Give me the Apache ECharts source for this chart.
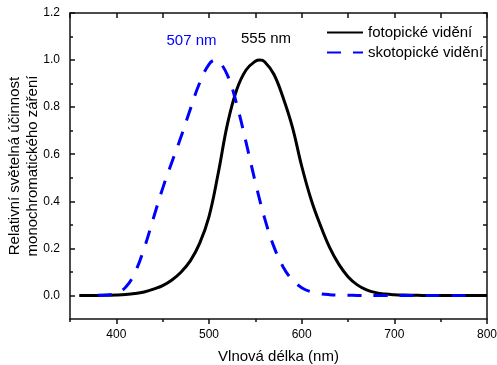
<!DOCTYPE html>
<html>
<head>
<meta charset="utf-8">
<script src="https://cdn.jsdelivr.net/npm/echarts@6/dist/echarts.min.js"></script>
<style>
  html, body { margin: 0; padding: 0; background: #fff; }
  #chart { width: 497px; height: 365px; }
</style>
</head>
<body>
<div id="chart"></div>
<script>
// fotopické vidění – vlnová délka (nm) a relativní účinnost
const photopicNm = [360, 370, 380, 390, 400, 410, 420, 430, 440, 450, 460, 470, 480, 490, 500, 510, 520, 530, 540, 550, 555,
    560, 570, 580, 590, 600, 610, 620, 630, 640, 650, 660, 670, 680, 690, 700, 710, 720, 730, 740, 750, 760, 770, 780, 790, 800];
const photopicV = [0, 0, 0, 0.001, 0.002, 0.004, 0.008, 0.015, 0.027, 0.042, 0.066, 0.1, 0.148, 0.222, 0.335, 0.52, 0.73, 0.875, 0.958, 0.995, 1.0,
    0.993, 0.94, 0.84, 0.715, 0.55, 0.41, 0.3, 0.205, 0.133, 0.08, 0.045, 0.024, 0.012, 0.006, 0.003, 0.0015, 0.0007, 0.0003, 0.0001, 0, 0, 0, 0, 0, 0];

// skotopické vidění
const scotopicNm = [380, 390, 400, 410, 420, 430, 440, 450, 460, 470, 480, 490, 500, 507,
    510, 520, 530, 540, 550, 560, 570, 580, 590, 600, 610, 620, 630, 640, 650, 660, 670,
    680, 690, 700, 710, 720, 730, 740, 750, 760, 770, 780];
const scotopicV = [0.0006, 0.0022, 0.0093, 0.0348, 0.0966, 0.1998, 0.3281, 0.455, 0.567, 0.676, 0.793, 0.904, 0.982, 1.0,
    0.997, 0.935, 0.811, 0.65, 0.481, 0.3288, 0.2076, 0.1212, 0.0655, 0.0332, 0.0159, 0.0074, 0.0033, 0.0015, 0.0007, 0.0003, 0.0001,
    0, 0, 0, 0, 0, 0, 0, 0, 0, 0, 0];

// popisky os
const xLabelValues = [400, 500, 600, 700, 800];
const xMinorValues = [350, 450, 550, 650, 750];
const xAllTicks = [350, 400, 450, 500, 550, 600, 650, 700, 750, 800];
const yLabelValues = [0, 0.2, 0.4, 0.6, 0.8, 1.0, 1.2];
const yMinorValues = [0.1, 0.3, 0.5, 0.7, 0.9, 1.1];
const yAllTicks = [0, 0.1, 0.2, 0.3, 0.4, 0.5, 0.6, 0.7, 0.8, 0.9, 1.0, 1.1, 1.2];

const FONT = 'Liberation Sans, Arial, sans-serif';
const AXIS_COLOR = '#111';

const chart = echarts.init(document.getElementById('chart'));

function zip(xs, ys) {
    return xs.map((x, i) => [x, ys[i]]);
}

// pomocná osa jen s čárkami
function tickOnlyAxis(extra) {
    return Object.assign({
        type: 'value',
        axisLine: { show: false, onZero: false },
        splitLine: { show: false },
        axisLabel: { show: false },
    }, extra);
}

const option = {
    animation: false,
    grid: { left: 70, right: 10, top: 13, bottom: 46, outerBoundsMode: 'none', containLabel: false },
    legend: {
        left: 326,
        top: 25,
        padding: 0,
        orient: 'vertical',
        itemWidth: 36,
        itemHeight: 14,
        itemGap: 5,
        itemStyle: { opacity: 0 },
        textStyle: { fontFamily: FONT, fontSize: 15, color: '#000' },
        data: ['fotopické vidění', 'skotopické vidění']
    },
    xAxis: [
        {
            type: 'value',
            position: 'bottom',
            min: 350,
            max: 800,
            name: 'Vlnová délka (nm)',
            nameLocation: 'middle',
            nameGap: 30,
            nameMoveOverlap: false,
            nameTextStyle: { fontFamily: FONT, fontSize: 15, color: '#000' },
            axisLine: { show: true, onZero: false, lineStyle: { color: AXIS_COLOR, width: 1.5 } },
            axisTick: { show: true, inside: false, length: 5, customValues: xLabelValues, lineStyle: { color: AXIS_COLOR, width: 1.5 } },
            axisLabel: { fontFamily: FONT, fontSize: 12, color: '#000', margin: 10, customValues: xLabelValues },
            splitLine: { show: false }
        },
        tickOnlyAxis({
            position: 'bottom', min: 350, max: 800,
            axisTick: { show: true, inside: false, length: 3, customValues: xMinorValues, lineStyle: { color: AXIS_COLOR, width: 1.5 } }
        }),
        tickOnlyAxis({
            position: 'top', min: 350, max: 800,
            axisLine: { show: true, onZero: false, lineStyle: { color: AXIS_COLOR, width: 1.5 } },
            axisTick: { show: true, inside: true, length: 5, customValues: xAllTicks, lineStyle: { color: AXIS_COLOR, width: 1.5 } }
        })
    ],
    yAxis: [
        {
            type: 'value',
            position: 'left',
            min: -0.1,
            max: 1.2,
            name: 'Relativní světelná účinnost\nmonochromatického záření',
            nameLocation: 'middle',
            nameGap: 28,
            nameRotate: 90,
            nameMoveOverlap: false,
            nameTextStyle: { fontFamily: FONT, fontSize: 15, color: '#000', lineHeight: 18 },
            axisLine: { show: true, onZero: false, lineStyle: { color: AXIS_COLOR, width: 1.5 } },
            axisTick: { show: true, inside: true, length: 5, customValues: yLabelValues, lineStyle: { color: AXIS_COLOR, width: 1.5 } },
            axisLabel: {
                fontFamily: FONT, fontSize: 12, color: '#000', margin: 10,
                customValues: yLabelValues,
                formatter: v => v.toFixed(1)
            },
            splitLine: { show: false }
        },
        tickOnlyAxis({
            position: 'left', min: -0.1, max: 1.2,
            axisTick: { show: true, inside: true, length: 3, customValues: yMinorValues, lineStyle: { color: AXIS_COLOR, width: 1.5 } }
        }),
        tickOnlyAxis({
            position: 'right', min: -0.1, max: 1.2,
            axisLine: { show: true, onZero: false, lineStyle: { color: AXIS_COLOR, width: 1.5 } },
            axisTick: { show: true, inside: true, length: 4, customValues: yAllTicks, lineStyle: { color: AXIS_COLOR, width: 1.5 } }
        })
    ],
    series: [
        {
            name: 'fotopické vidění',
            type: 'line',
            xAxisIndex: 0,
            yAxisIndex: 0,
            data: zip(photopicNm, photopicV),
            showSymbol: false,
            symbol: 'none',
            smooth: 0.4,
            lineStyle: { color: '#000', width: 3 },
            itemStyle: { color: '#000' },
            markPoint: {
                symbol: 'circle',
                symbolSize: 0,
                label: {
                    show: true,
                    formatter: '555 nm',
                    offset: [6, -21],
                    fontFamily: FONT, fontSize: 15, color: '#000'
                },
                data: [{ coord: [555, 1.0] }]
            }
        },
        {
            name: 'skotopické vidění',
            type: 'line',
            xAxisIndex: 0,
            yAxisIndex: 0,
            data: zip(scotopicNm, scotopicV),
            showSymbol: false,
            symbol: 'none',
            smooth: 0.4,
            lineStyle: { color: '#0000ff', width: 3, type: [14, 12] },
            itemStyle: { color: '#0000ff' },
            markPoint: {
                symbol: 'circle',
                symbolSize: 0,
                label: {
                    show: true,
                    formatter: '507 nm',
                    offset: [-24, -19],
                    fontFamily: FONT, fontSize: 15, color: '#0000ff'
                },
                data: [{ coord: [507, 1.0] }]
            }
        }
    ]
};

chart.setOption(option);
</script>
</body>
</html>
